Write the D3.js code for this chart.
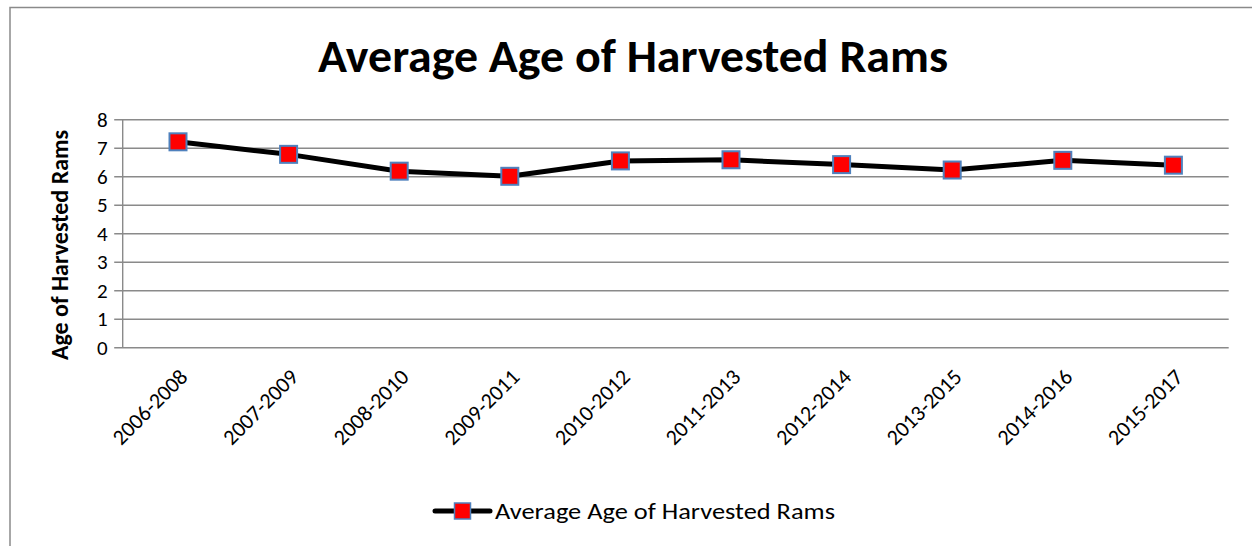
<!DOCTYPE html>
<html>
<head>
<meta charset="utf-8">
<script src="https://cdn.jsdelivr.net/npm/d3@7"></script>
<style>
  html, body { margin: 0; padding: 0; background: #ffffff; }
  svg { display: block; font-family: Carlito, Calibri, Lato, "Open Sans", sans-serif; }
</style>
</head>
<body>
<svg id="chart" width="1252" height="546"></svg>
<script>
// Three-year rolling windows and average ram age for each
const periods = ["2006-2008", "2007-2009", "2008-2010", "2009-2011", "2010-2012",
                 "2011-2013", "2012-2014", "2013-2015", "2014-2016", "2015-2017"];
const averageAge = [7.21, 6.77, 6.18, 6.0, 6.54, 6.58, 6.41, 6.22, 6.56, 6.39];
const yTicks = [0, 1, 2, 3, 4, 5, 6, 7, 8];
const chartTitle = "Average Age of Harvested Rams";
const yTitle = "Age of Harvested Rams";
const seriesName = "Average Age of Harvested Rams";

const svg = d3.select("#chart");
const W = 1252, H = 546;
const plot = { left: 122.7, right: 1228.7, top: 119.3, bottom: 347.3 };
const gridColor = "#8a8a8a";
const fontStack = "Carlito, Calibri, Lato, sans-serif";

svg.append("rect").attr("width", W).attr("height", H).attr("fill", "#fff");

// Outer chart frame (runs past the right and bottom edges)
svg.append("rect")
  .attr("x", 10).attr("y", 7.5)
  .attr("width", W + 20).attr("height", H + 20)
  .attr("fill", "none").attr("stroke", gridColor).attr("stroke-width", 1.5);

const x = d3.scaleBand().domain(periods).range([plot.left, plot.right]).padding(0);
const y = d3.scaleLinear().domain([0, 8]).range([plot.bottom, plot.top]);

// Horizontal gridlines with short outside ticks
const yAxis = d3.axisLeft(y).tickValues(yTicks)
  .tickSize(-(plot.right - plot.left)).tickSizeOuter(0).tickPadding(15);
const gy = svg.append("g").attr("transform", `translate(${plot.left},0)`).call(yAxis);
gy.select(".domain").remove();
gy.selectAll(".tick line")
  .attr("x1", -8.5)
  .attr("stroke", gridColor).attr("stroke-width", 1.4);
gy.selectAll(".tick text")
  .attr("font-size", 21).attr("fill", "#000")
  .attr("font-family", fontStack)
  .attr("dy", "0.32em");

// Vertical axis line
svg.append("line")
  .attr("x1", plot.left).attr("x2", plot.left)
  .attr("y1", plot.top).attr("y2", plot.bottom)
  .attr("stroke", gridColor).attr("stroke-width", 1.4);

// Category labels, rotated
const xAxis = d3.axisBottom(x).tickSize(0).tickPadding(0);
const gx = svg.append("g").attr("transform", `translate(0,${plot.bottom})`).call(xAxis);
gx.select(".domain").remove();
gx.selectAll(".tick text")
  .attr("font-size", 22).attr("fill", "#000")
  .attr("font-family", fontStack)
  .attr("text-anchor", "end")
  .attr("dy", null)
  .attr("transform", "translate(11,31) rotate(-45)");

// Series line
const line = d3.line()
  .x((d, i) => x(periods[i]) + x.bandwidth() / 2)
  .y(d => y(d));
svg.append("path")
  .datum(averageAge)
  .attr("d", line)
  .attr("fill", "none").attr("stroke", "#000").attr("stroke-width", 5)
  .attr("stroke-linejoin", "round");

// Square markers
const mk = 17;
svg.append("g").selectAll("rect")
  .data(averageAge)
  .join("rect")
  .attr("x", (d, i) => x(periods[i]) + x.bandwidth() / 2 - mk / 2)
  .attr("y", d => y(d) - mk / 2)
  .attr("width", mk).attr("height", mk)
  .attr("fill", "#ff0000").attr("stroke", "#4f81bd").attr("stroke-width", 2);

// Title
svg.append("text")
  .attr("x", 633).attr("y", 71.7)
  .attr("text-anchor", "middle")
  .attr("font-size", 47).attr("font-weight", "bold").attr("fill", "#000")
  .attr("textLength", 630).attr("lengthAdjust", "spacingAndGlyphs")
  .text(chartTitle);

// Y axis title
svg.append("text")
  .attr("transform", `translate(68,245) rotate(-90)`)
  .attr("text-anchor", "middle")
  .attr("font-size", 24).attr("font-weight", "bold").attr("fill", "#000")
  .text(yTitle);

// Legend
const lg = svg.append("g").attr("transform", "translate(435,511)");
lg.append("line").attr("x1", 0).attr("x2", 55).attr("y1", 0).attr("y2", 0)
  .attr("stroke", "#000").attr("stroke-width", 5).attr("stroke-linecap", "round");
lg.append("rect").attr("x", 27.5 - 8).attr("y", -8).attr("width", 16).attr("height", 16)
  .attr("fill", "#ff0000").attr("stroke", "#4f81bd").attr("stroke-width", 1.5);
lg.append("text").attr("x", 60).attr("y", 7.5)
  .attr("font-size", 23).attr("fill", "#000")
  .attr("textLength", 340).attr("lengthAdjust", "spacingAndGlyphs")
  .text(seriesName);
</script>
</body>
</html>
